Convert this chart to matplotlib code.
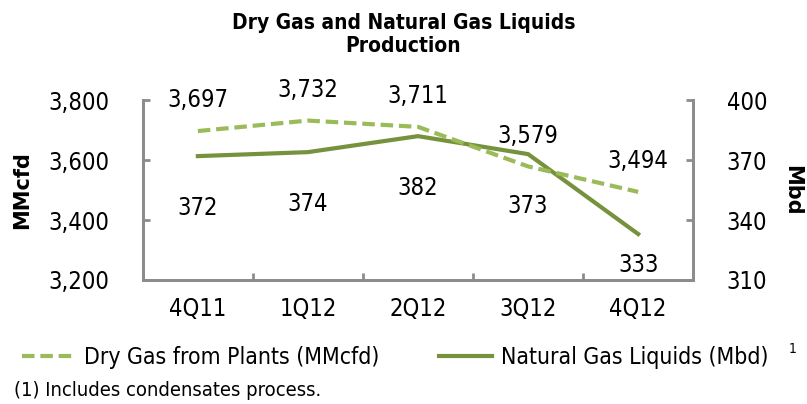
import matplotlib.pyplot as plt

quarters = ["4Q11", "1Q12", "2Q12", "3Q12", "4Q12"]
dry_gas = [3697, 3732, 3711, 3579, 3494]   # MMcfd
ngl = [372, 374, 382, 373, 333]            # Mbd

light_green = "#9BBB59"
dark_green = "#76923C"
gray = "#8C8C8C"

plt.rcParams["font.family"] = ["DejaVu Sans"]
plt.rcParams["font.stretch"] = "condensed"

fig = plt.figure(figsize=(8.07, 4.04), dpi=100)
ax = fig.add_axes([0.177, 0.307, 0.682, 0.445])
ax2 = ax.twinx()

x = range(len(quarters))
l1, = ax.plot(x, dry_gas, color=light_green, lw=3, ls=(0, (3, 1.4)),
              label="Dry Gas from Plants (MMcfd)")
l2, = ax2.plot(x, ngl, color=dark_green, lw=3, label="Natural Gas Liquids (Mbd)")
ax2.set_zorder(ax.get_zorder() - 1)
ax.patch.set_visible(False)

ax.set_xlim(-0.5, len(quarters) - 0.5)
ax.set_ylim(3200, 3800)
ax2.set_ylim(310, 400)
ax.set_yticks([3200, 3400, 3600, 3800])
ax.set_yticklabels([f"{v:,}" for v in [3200, 3400, 3600, 3800]])
ax2.set_yticks([310, 340, 370, 400])
ax.set_xticks(list(x))
ax.set_xticklabels(quarters)
ax.set_xticks([i + 0.5 for i in range(len(quarters) - 1)], minor=True)

for a in (ax, ax2):
    a.spines["top"].set_visible(False)
    for s in ("left", "right", "bottom"):
        a.spines[s].set_color(gray)
        a.spines[s].set_linewidth(2)
    a.tick_params(labelsize=17, colors="black")
    a.tick_params(axis="y", direction="in", length=5, width=2, color=gray, pad=24,
                  labelcolor="black")
ax.tick_params(axis="x", which="major", length=0, pad=12)
ax.tick_params(axis="x", which="minor", direction="in", length=5, width=2, color=gray)

ax.set_ylabel("MMcfd", fontsize=15, fontweight="bold", fontstretch="normal", labelpad=12)
ax2.set_ylabel("Mbd", fontsize=15, fontweight="bold", fontstretch="normal",
               rotation=270, labelpad=25)

for i, v in enumerate(dry_gas):
    ax.annotate(f"{v:,}", (i, v), xytext=(0, 22), textcoords="offset points",
                ha="center", va="center", fontsize=17)
for i, v in enumerate(ngl):
    ax2.annotate(f"{v}", (i, v), xytext=(0, -37 if i < 4 else -22), textcoords="offset points",
                 ha="center", va="center", fontsize=17)

fig.text(0.5, 0.915, "Dry Gas and Natural Gas Liquids\nProduction", ha="center", va="center",
         fontsize=15, fontweight="bold", linespacing=1.15)

fig.legend(handles=[l1, l2], loc="center", bbox_to_anchor=(0.49, 0.115), ncol=2,
           frameon=False, fontsize=16.5, handlelength=2.3, columnspacing=2.6, handletextpad=0.4)
fig.text(0.977, 0.127, "1", fontsize=10, ha="left")
fig.text(0.017, 0.02, "(1) Includes condensates process.", fontsize=14.5)

fig.savefig("out.png", dpi=100)
